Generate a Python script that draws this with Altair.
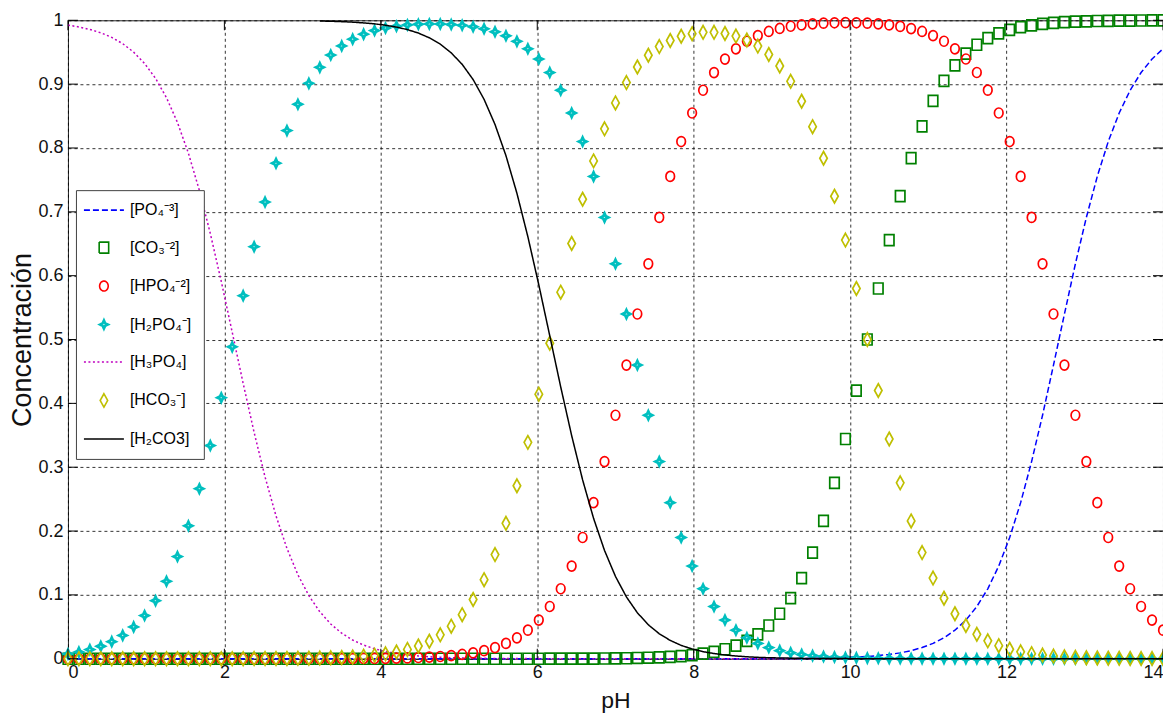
import altair as alt
import pandas as pd

# pH grid of the markers and curves
PH = [0.00, 0.14, 0.28, 0.42, 0.56, 0.70, 0.84, 0.98, 1.12, 1.26,
      1.40, 1.54, 1.68, 1.82, 1.96, 2.10, 2.24, 2.38, 2.52, 2.66,
      2.80, 2.94, 3.08, 3.22, 3.36, 3.50, 3.64, 3.78, 3.92, 4.06,
      4.20, 4.34, 4.48, 4.62, 4.76, 4.90, 5.04, 5.18, 5.32, 5.46,
      5.60, 5.74, 5.88, 6.02, 6.16, 6.30, 6.44, 6.58, 6.72, 6.86,
      7.00, 7.14, 7.28, 7.42, 7.56, 7.70, 7.84, 7.98, 8.12, 8.26,
      8.40, 8.54, 8.68, 8.82, 8.96, 9.10, 9.24, 9.38, 9.52, 9.66,
      9.80, 9.94, 10.08, 10.22, 10.36, 10.50, 10.64, 10.78, 10.92, 11.06,
      11.20, 11.34, 11.48, 11.62, 11.76, 11.90, 12.04, 12.18, 12.32, 12.46,
      12.60, 12.74, 12.88, 13.02, 13.16, 13.30, 13.44, 13.58, 13.72, 13.86,
      14.00]

PO4 = [0, 0, 0, 0, 0, 0, 0, 0, 0, 0,
       0, 0, 0, 0, 0, 0, 0, 0, 0, 0,
       0, 0, 0, 0, 0, 0, 0, 0, 0, 0,
       0, 0, 0, 0, 0, 0, 0, 0, 0, 0,
       0, 0, 0, 0, 0, 0, 0, 0, 0, 0,
       0, 0, 0, 0, 0, 0, 0, 0, 0, 0,
       0, 0, 0.0001, 0.0001, 0.0002, 0.0003, 0.0004, 0.0005, 0.0007, 0.0010,
       0.0013, 0.0019, 0.0026, 0.0035, 0.0049, 0.0067, 0.0092, 0.0127, 0.0175, 0.0240,
       0.0328, 0.0447, 0.0606, 0.0818, 0.1096, 0.1452, 0.1899, 0.2445, 0.3088, 0.3814,
       0.4600, 0.5400, 0.6186, 0.6912, 0.7555, 0.8101, 0.8548, 0.8904, 0.9182, 0.9394,
       0.9553]

CO3 = [0, 0, 0, 0, 0, 0, 0, 0, 0, 0,
       0, 0, 0, 0, 0, 0, 0, 0, 0, 0,
       0, 0, 0, 0, 0, 0, 0, 0, 0, 0,
       0, 0, 0, 0, 0, 0, 0, 0, 0, 0,
       0, 0, 0, 0, 0.0001, 0.0001, 0.0002, 0.0002, 0.0003, 0.0004,
       0.0006, 0.0008, 0.0012, 0.0016, 0.0022, 0.0030, 0.0042, 0.0057, 0.0079, 0.0108,
       0.0149, 0.0205, 0.0280, 0.0383, 0.0521, 0.0705, 0.0948, 0.1263, 0.1663, 0.2159,
       0.2755, 0.3442, 0.4201, 0.5000, 0.5799, 0.6558, 0.7245, 0.7841, 0.8337, 0.8737,
       0.9052, 0.9295, 0.9479, 0.9617, 0.9720, 0.9795, 0.9851, 0.9892, 0.9921, 0.9943,
       0.9959, 0.9970, 0.9978, 0.9984, 0.9989, 0.9992, 0.9994, 0.9996, 0.9997, 0.9998,
       0.9998]

HPO4 = [0, 0, 0, 0, 0, 0, 0, 0, 0, 0,
        0, 0, 0, 0, 0, 0, 0, 0, 0, 0,
        0, 0, 0, 0, 0.0001, 0.0002, 0.0003, 0.0004, 0.0005, 0.0007,
        0.0010, 0.0013, 0.0019, 0.0026, 0.0035, 0.0049, 0.0067, 0.0092, 0.0127, 0.0175,
        0.0240, 0.0328, 0.0447, 0.0606, 0.0818, 0.1096, 0.1452, 0.1899, 0.2445, 0.3088,
        0.3814, 0.4600, 0.5400, 0.6186, 0.6912, 0.7555, 0.8101, 0.8548, 0.8904, 0.9181,
        0.9393, 0.9553, 0.9672, 0.9760, 0.9825, 0.9872, 0.9907, 0.9928, 0.9944, 0.9955,
        0.9961, 0.9963, 0.9961, 0.9955, 0.9944, 0.9928, 0.9904, 0.9870, 0.9825, 0.9760,
        0.9672, 0.9553, 0.9394, 0.9182, 0.8905, 0.8548, 0.8101, 0.7555, 0.6912, 0.6186,
        0.5400, 0.4600, 0.3814, 0.3088, 0.2445, 0.1899, 0.1452, 0.1096, 0.0818, 0.0606,
        0.0447]

H2PO4 = [0.0075, 0.0104, 0.0143, 0.0196, 0.0268, 0.0366, 0.0499, 0.0676, 0.0909, 0.1213,
         0.1600, 0.2082, 0.2664, 0.3339, 0.4089, 0.4885, 0.5687, 0.6454, 0.7153, 0.7762,
         0.8272, 0.8685, 0.9012, 0.9263, 0.9455, 0.9599, 0.9705, 0.9783, 0.9839, 0.9879,
         0.9908, 0.9927, 0.9938, 0.9943, 0.9942, 0.9934, 0.9921, 0.9899, 0.9867, 0.9820,
         0.9757, 0.9670, 0.9553, 0.9393, 0.9181, 0.8904, 0.8548, 0.8101, 0.7555, 0.6912,
         0.6186, 0.5400, 0.4600, 0.3814, 0.3088, 0.2445, 0.1899, 0.1452, 0.1096, 0.0818,
         0.0606, 0.0447, 0.0328, 0.0240, 0.0175, 0.0127, 0.0093, 0.0067, 0.0049, 0.0035,
         0.0026, 0.0019, 0.0014, 0.0010, 0.0007, 0.0005, 0.0004, 0.0003, 0.0002, 0.0001,
         0.0001, 0.0001, 0, 0, 0, 0, 0, 0, 0, 0,
         0, 0, 0, 0, 0, 0, 0, 0, 0, 0,
         0]

H3PO4 = [0.9925, 0.9896, 0.9857, 0.9804, 0.9732, 0.9634, 0.9501, 0.9324, 0.9091, 0.8787,
         0.8400, 0.7918, 0.7336, 0.6661, 0.5911, 0.5115, 0.4313, 0.3546, 0.2847, 0.2238,
         0.1728, 0.1315, 0.0988, 0.0736, 0.0544, 0.0400, 0.0293, 0.0214, 0.0156, 0.0114,
         0.0082, 0.0060, 0.0043, 0.0031, 0.0023, 0.0017, 0.0012, 0.0009, 0.0006, 0.0005,
         0.0003, 0.0002, 0.0002, 0.0001, 0.0001, 0, 0, 0, 0, 0,
         0, 0, 0, 0, 0, 0, 0, 0, 0, 0,
         0, 0, 0, 0, 0, 0, 0, 0, 0, 0,
         0, 0, 0, 0, 0, 0, 0, 0, 0, 0,
         0, 0, 0, 0, 0, 0, 0, 0, 0, 0,
         0, 0, 0, 0, 0, 0, 0, 0, 0, 0,
         0]

HCO3 = [0, 0, 0, 0, 0, 0, 0, 0, 0, 0,
        0, 0, 0, 0, 0, 0, 0.0001, 0.0002, 0.0002, 0.0003,
        0.0004, 0.0006, 0.0008, 0.0011, 0.0015, 0.0021, 0.0029, 0.0041, 0.0056, 0.0077,
        0.0106, 0.0146, 0.0200, 0.0274, 0.0374, 0.0510, 0.0690, 0.0928, 0.1238, 0.1632,
        0.2121, 0.2709, 0.3389, 0.4144, 0.4941, 0.5742, 0.6504, 0.7197, 0.7798, 0.8300,
        0.8706, 0.9025, 0.9269, 0.9453, 0.9588, 0.9684, 0.9750, 0.9791, 0.9811, 0.9812,
        0.9793, 0.9753, 0.9690, 0.9596, 0.9464, 0.9284, 0.9044, 0.8732, 0.8334, 0.7839,
        0.7244, 0.6557, 0.5799, 0.5000, 0.4201, 0.3442, 0.2755, 0.2159, 0.1663, 0.1263,
        0.0948, 0.0705, 0.0521, 0.0383, 0.0280, 0.0205, 0.0149, 0.0108, 0.0079, 0.0057,
        0.0042, 0.0030, 0.0022, 0.0016, 0.0012, 0.0008, 0.0006, 0.0004, 0.0003, 0.0002,
        0.0002]

# black curve is hidden under the top frame before pH ~3.2
H2CO3 = [None, None, None, None, None, None, None, None, None, None,
         None, None, None, None, None, None, None, None, None, None,
         None, None, None, 0.9989, 0.9985, 0.9979, 0.9971, 0.9959, 0.9944, 0.9923,
         0.9894, 0.9854, 0.9800, 0.9726, 0.9626, 0.9490, 0.9310, 0.9072, 0.8762, 0.8368,
         0.7879, 0.7291, 0.6610, 0.5855, 0.5058, 0.4257, 0.3494, 0.2801, 0.2199, 0.1696,
         0.1289, 0.0968, 0.0720, 0.0532, 0.0391, 0.0287, 0.0209, 0.0153, 0.0111, 0.0081,
         0.0059, 0.0043, 0.0031, 0.0022, 0.0016, 0.0012, 0.0009, 0.0006, 0.0004, 0.0003,
         0.0002, 0.0002, 0.0001, 0.0001, 0, 0, 0, 0, 0, 0,
         0, 0, 0, 0, 0, 0, 0, 0, 0, 0,
         0, 0, 0, 0, 0, 0, 0, 0, 0, 0,
         0]

SERIES = ["[PO\u2084\u207b\u00b3]", "[CO\u2083\u207b\u00b2]", "[HPO\u2084\u207b\u00b2]",
          "[H\u2082PO\u2084\u207b]", "[H\u2083PO\u2084]", "[HCO\u2083\u207b]", "[H\u2082CO3]"]
COLORS = ["#0000FF", "#008000", "#FF0000", "#00BFBF", "#BF00BF", "#BFBF00", "#000000"]
LINE = "M-4,0H4"
SQUARE = "M-0.95,-1.1H0.95V1.1H-0.95Z"
CIRCLE = "M-0.86,0A0.86,1 0 1,0 0.86,0A0.86,1 0 1,0 -0.86,0Z"
STAR = ("M0,-1.05L0.33,-0.33L1.0,0L0.33,0.33L0,1.05L-0.33,0.33L-1.0,0L-0.33,-0.33Z"
        "M0,-0.55L0.18,-0.18L0.55,0L0.18,0.18L0,0.55L-0.18,0.18L-0.55,0L-0.18,-0.18Z")
DIAMOND = "M0,-1.35L0.75,0L0,1.35L-0.75,0Z"
SHAPES = [LINE, SQUARE, CIRCLE, STAR, LINE, DIAMOND, LINE]
DASHES = [[6, 3], [1, 0], [1, 0], [1, 0], [2, 2.5], [1, 0], [1, 0]]

X_TICKS = [0, 2, 4, 6, 8, 10, 12, 14]
Y_TICKS = [0, 0.1, 0.2, 0.3, 0.4, 0.5, 0.6, 0.7, 0.8, 0.9, 1]

W, H = 1096, 639
FONT = "Liberation Sans"


def frame(names, arrays):
    rows = []
    for name, arr in zip(names, arrays):
        for x, y in zip(PH, arr):
            if y is not None:
                rows.append({"x": x, "y": y, "serie": name})
    return pd.DataFrame(rows)


lines_a = frame([SERIES[0], SERIES[4]], [PO4, H3PO4])
points = frame([SERIES[1], SERIES[2], SERIES[3], SERIES[5]], [CO3, HPO4, H2PO4, HCO3])
lines_b = frame([SERIES[6]], [H2CO3])

xscale = alt.Scale(domain=[0, 14], nice=False, zero=False)
yscale = alt.Scale(domain=[0, 1], nice=False, zero=False)

xaxis = alt.Axis(values=X_TICKS, title="pH", grid=True, ticks=False, domain=False,
                 gridColor="#000000", gridDash=[3, 3], gridOpacity=0.8,
                 labelFont=FONT, labelFontSize=18, labelColor="#111111", labelPadding=5,
                 titleFont=FONT, titleFontSize=23, titleFontWeight="normal",
                 titleColor="#111111", titlePadding=8)
yaxis = alt.Axis(values=Y_TICKS, format="~g", title="Concentraci\u00f3n", grid=True,
                 ticks=False, domain=False,
                 gridColor="#000000", gridDash=[3, 3], gridOpacity=0.8,
                 labelFont=FONT, labelFontSize=18, labelColor="#111111", labelPadding=5,
                 titleFont=FONT, titleFontSize=27, titleFontWeight="normal",
                 titleColor="#111111", titleX=-45, titleY=H / 2, titleAngle=270,
                 titleAlign="center", titleBaseline="middle")

legend = alt.Legend(title=None, orient="none", legendX=8, legendY=170,
                    padding=12, strokeColor="#404040", fillColor="#FFFFFF",
                    symbolSize=100, symbolStrokeWidth=1.6, symbolOffset=8,
                    labelOffset=18, rowPadding=20.5, labelFont=FONT, labelFontSize=16,
                    labelColor="#000000")

color = alt.Color("serie:N", scale=alt.Scale(domain=SERIES, range=COLORS), legend=legend)
dash = alt.StrokeDash("serie:N", scale=alt.Scale(domain=SERIES, range=DASHES), legend=legend)
shape = alt.Shape("serie:N", scale=alt.Scale(domain=SERIES, range=SHAPES), legend=legend)

X = alt.X("x:Q", scale=xscale, axis=xaxis)
Y = alt.Y("y:Q", scale=yscale, axis=yaxis)

layer_a = alt.Chart(lines_a).mark_line(strokeWidth=1.5).encode(
    x=X, y=Y, color=color, strokeDash=dash, detail="serie:N")
layer_p = alt.Chart(points).mark_point(filled=False, size=100, strokeWidth=1.7, opacity=1).encode(
    x=X, y=Y, color=color, shape=shape)
layer_b = alt.Chart(lines_b).mark_line(strokeWidth=1.5).encode(
    x=X, y=Y, color=color, strokeDash=dash, detail="serie:N")

ytick_df = pd.DataFrame({"y": Y_TICKS})
xtick_df = pd.DataFrame({"x": X_TICKS})
tick_l = alt.Chart(ytick_df).mark_rule(color="#000000", strokeWidth=1).encode(
    y=Y, x=alt.value(0), x2=alt.value(10))
tick_r = alt.Chart(ytick_df).mark_rule(color="#000000", strokeWidth=1).encode(
    y=Y, x=alt.value(W - 10), x2=alt.value(W))
tick_b = alt.Chart(xtick_df).mark_rule(color="#000000", strokeWidth=1).encode(
    x=X, y=alt.value(H - 10), y2=alt.value(H))
tick_t = alt.Chart(xtick_df).mark_rule(color="#000000", strokeWidth=1).encode(
    x=X, y=alt.value(0), y2=alt.value(10))

chart = alt.layer(layer_a, layer_p, layer_b, tick_l, tick_r, tick_b, tick_t).properties(
    width=W, height=H,
    autosize=alt.AutoSizeParams(type="none"),
    padding={"left": 60, "top": 12, "right": 0, "bottom": 56},
    background="#FFFFFF",
).configure_view(stroke="#222222", strokeWidth=1)

chart.save("out.html", embed_options={"renderer": "svg", "actions": False})
